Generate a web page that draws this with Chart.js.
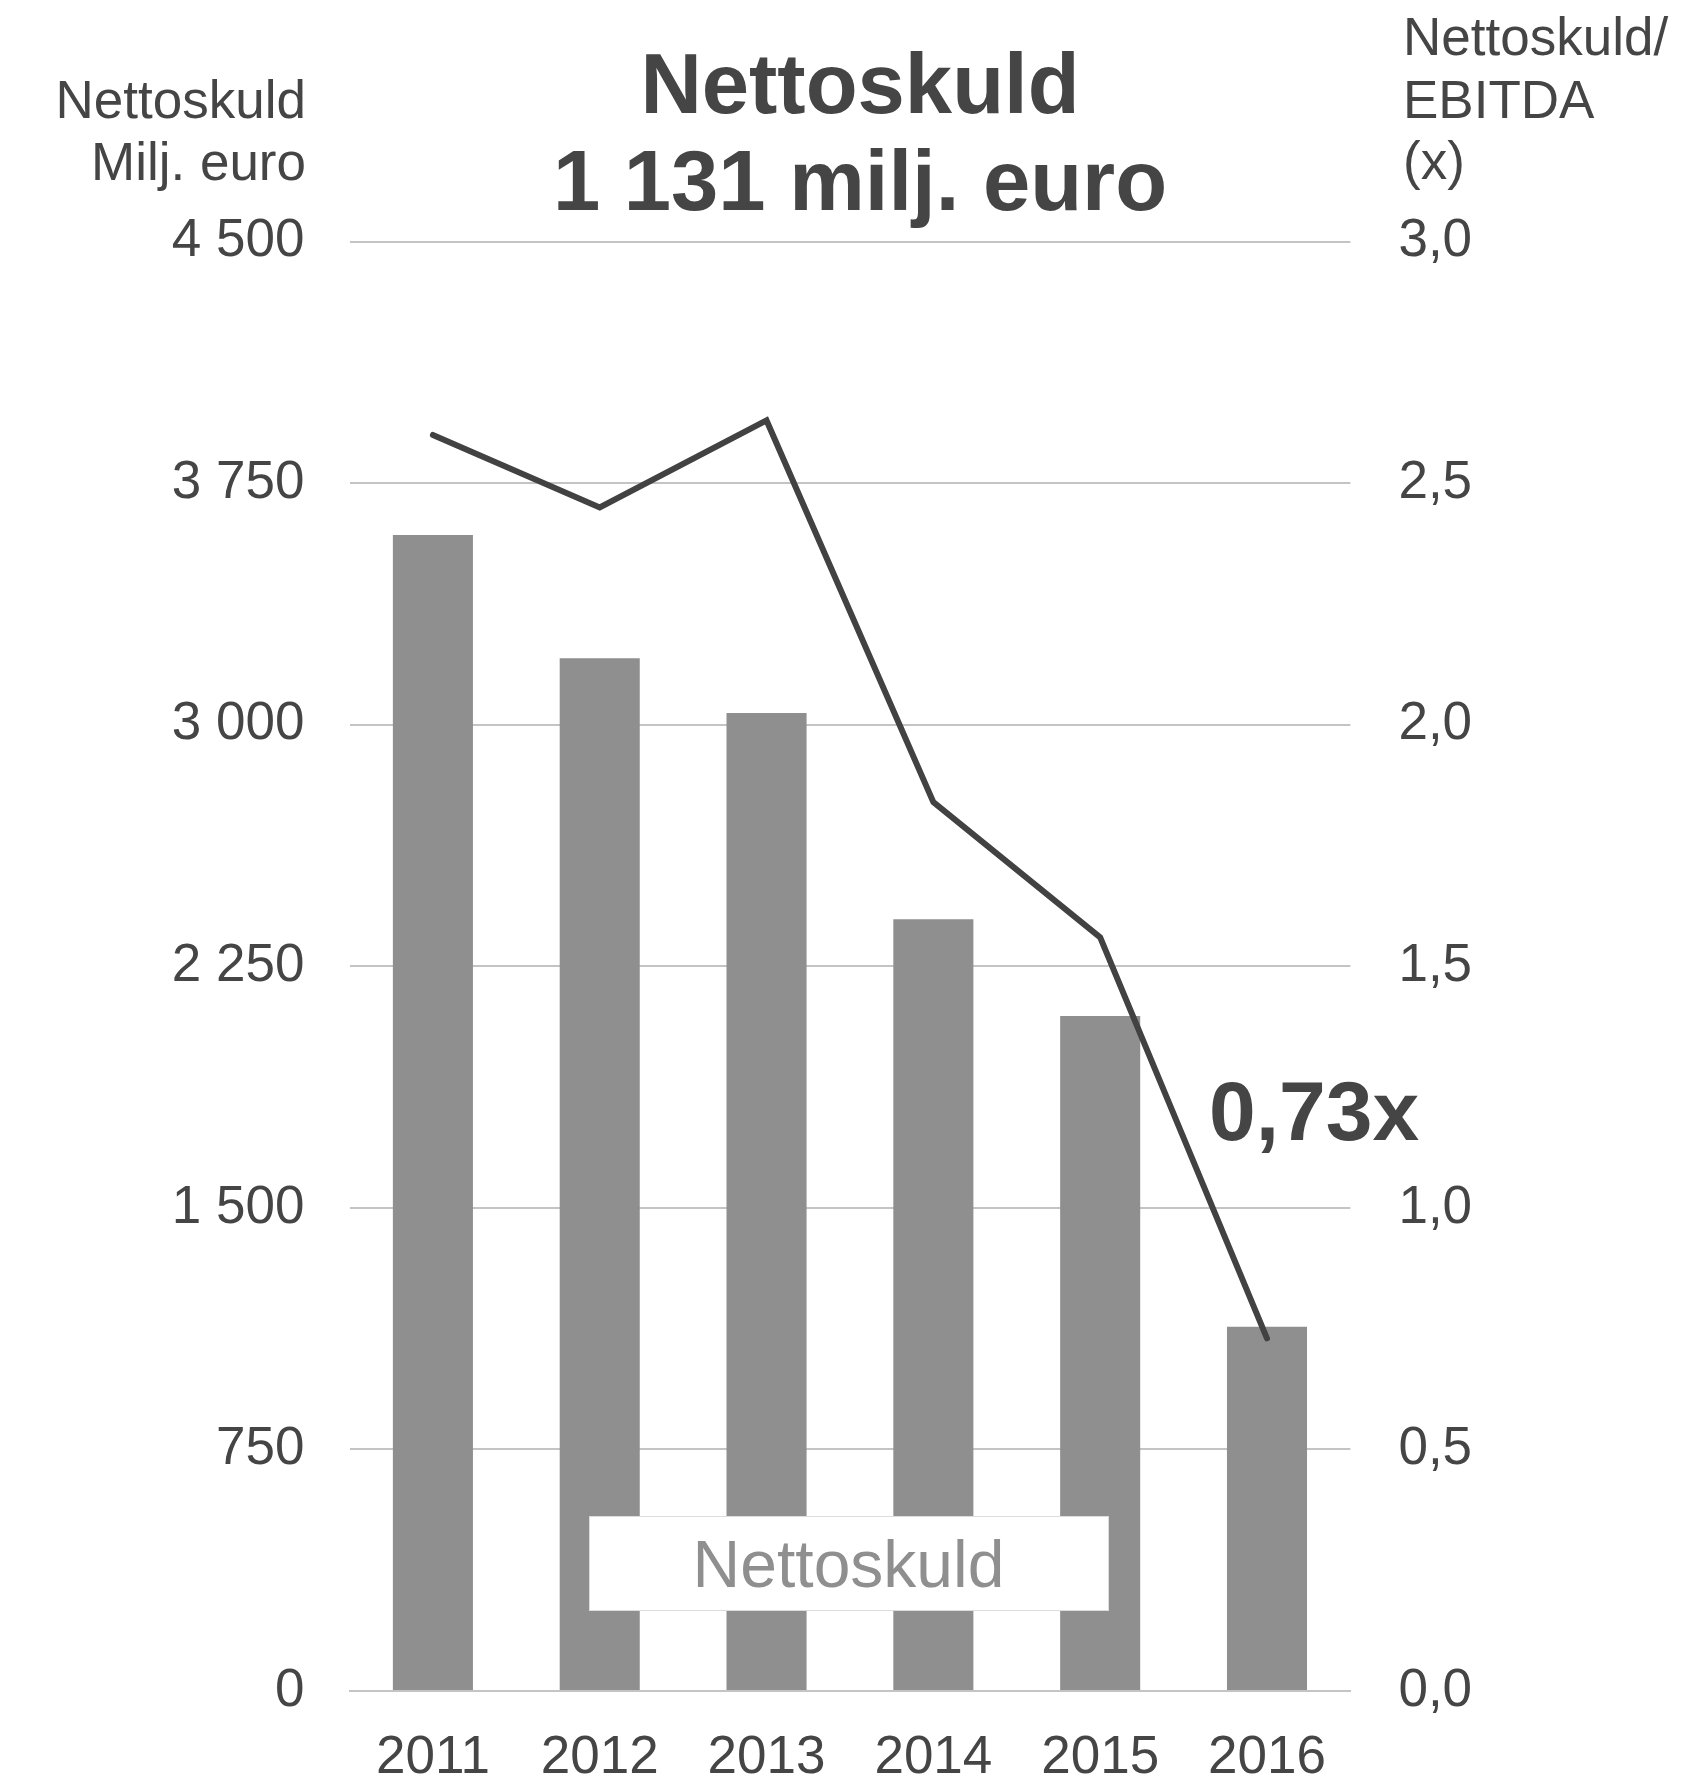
<!DOCTYPE html>
<html>
<head>
<meta charset="utf-8">
<script src="https://cdn.jsdelivr.net/npm/chart.js@4"></script>
<style>
   html, body { margin: 0; padding: 0; background: #ffffff; }
   #wrap { width: 1701px; height: 1779px; }
</style>
</head>
<body>
<div id="wrap"><canvas id="graphique" width="1701" height="1779"></canvas></div>
<script>
const years = ['2011', '2012', '2013', '2014', '2015', '2016'];
const nettoskuld = [3589, 3207, 3037, 2396, 2096, 1131];   // milj. euro
const skuldEbitda = [2.60, 2.45, 2.63, 1.84, 1.56, 0.73];  // x
const leftTicks = [0, 750, 1500, 2250, 3000, 3750, 4500];
const rightTicks = [0, 0.5, 1, 1.5, 2, 2.5, 3];

const textColor = '#454545';
const barColor = '#8f8f8f';
const lineColor = '#424242';
const gridColor = '#c4c4c4';
const fontName = '"Liberation Sans", Arial, sans-serif';

// textes autour du graphique (titre, titres des axes, étiquette, légende)
const textesPlugin = {
   id: 'textes',
   afterDatasetsDraw(chart) {
      const ctx = chart.ctx;
      ctx.save();
      ctx.fillStyle = textColor;
      ctx.textBaseline = 'alphabetic';

      ctx.font = 'bold 85px ' + fontName;
      ctx.textAlign = 'center';
      ctx.fillText('Nettoskuld', 860, 113);
      ctx.fillText('1 131 milj. euro', 860, 210);

      ctx.font = '53px ' + fontName;
      ctx.textAlign = 'right';
      ctx.fillText('Nettoskuld', 306, 118);
      ctx.fillText('Milj. euro', 306, 180);

      ctx.textAlign = 'left';
      ctx.fillText('Nettoskuld/', 1403, 55);
      ctx.fillText('EBITDA', 1403, 118);
      ctx.fillText('(x)', 1403, 179);

      ctx.font = 'bold 84px ' + fontName;
      ctx.fillText('0,73x', 1209, 1140);

      // légende
      ctx.fillStyle = '#ffffff';
      ctx.fillRect(589, 1516, 519, 94);
      ctx.strokeStyle = '#dcdcdc';
      ctx.lineWidth = 1;
      ctx.strokeRect(589.5, 1516.5, 519, 94);
      ctx.fillStyle = barColor;
      ctx.font = '66px ' + fontName;
      ctx.textAlign = 'center';
      ctx.fillText('Nettoskuld', 848.5, 1587);
      ctx.restore();
   }
};

const scalesForGraphique = {
   x: {
      offset: true,
      ticks: {
         color: textColor,
         font: { family: fontName, size: 53 },
         padding: 28,
         maxRotation: 0
      },
      grid: {
         display: false
      },
      border: {
         display: true,
         color: gridColor,
         width: 2
      },
      afterFit: function(scale) { scale.height = 88; }
   },
   y: {
      position: 'left',
      min: 0,
      max: 4500,
      afterBuildTicks: function(scale) {
         scale.ticks = leftTicks.map(v => ({ value: v }));
      },
      ticks: {
         color: textColor,
         font: { family: fontName, size: 53 },
         padding: 45,
         callback: function(value) {
            return value >= 1000 ? Math.floor(value / 1000) + ' ' + String(value % 1000).padStart(3, '0') : String(value);
         }
      },
      grid: {
         color: gridColor,
         lineWidth: 2,
         drawTicks: false
      },
      border: { display: false },
      afterFit: function(scale) { scale.width = 349.5; }
   },
   y2: {
      position: 'right',
      min: 0,
      max: 3,
      afterBuildTicks: function(scale) {
         scale.ticks = rightTicks.map(v => ({ value: v }));
      },
      ticks: {
         color: textColor,
         font: { family: fontName, size: 53 },
         padding: 48,
         callback: function(value) {
            return value.toFixed(1).replace('.', ',');
         }
      },
      grid: {
         display: false,
         drawTicks: false
      },
      border: { display: false },
      afterFit: function(scale) { scale.width = 350.6; }
   }
};

function createGraphique(element) {
   new Chart(
      element,
      {
         type: 'bar',
         data: {
            labels: years,
            datasets: [
               {
                  type: 'line',
                  label: 'Nettoskuld/EBITDA',
                  data: skuldEbitda,
                  yAxisID: 'y2',
                  borderColor: lineColor,
                  borderWidth: 6,
                  borderCapStyle: 'round',
                  borderJoinStyle: 'miter',
                  pointRadius: 0,
                  tension: 0,
                  order: 0
               },
               {
                  type: 'bar',
                  label: 'Nettoskuld',
                  data: nettoskuld,
                  yAxisID: 'y',
                  backgroundColor: barColor,
                  borderColor: 'transparent',
                  barPercentage: 0.48,
                  categoryPercentage: 1,
                  order: 1
               }
            ]
         },
         options: {
            responsive: false,
            animation: false,
            scales: scalesForGraphique,
            layout: {
               padding: { left: 0, right: 0, top: 241.7, bottom: 0 }
            },
            plugins: {
               legend: { display: false },
               tooltip: { enabled: false }
            }
         },
         plugins: [textesPlugin]
      }
   );
}

createGraphique(document.getElementById('graphique'));
</script>
</body>
</html>
